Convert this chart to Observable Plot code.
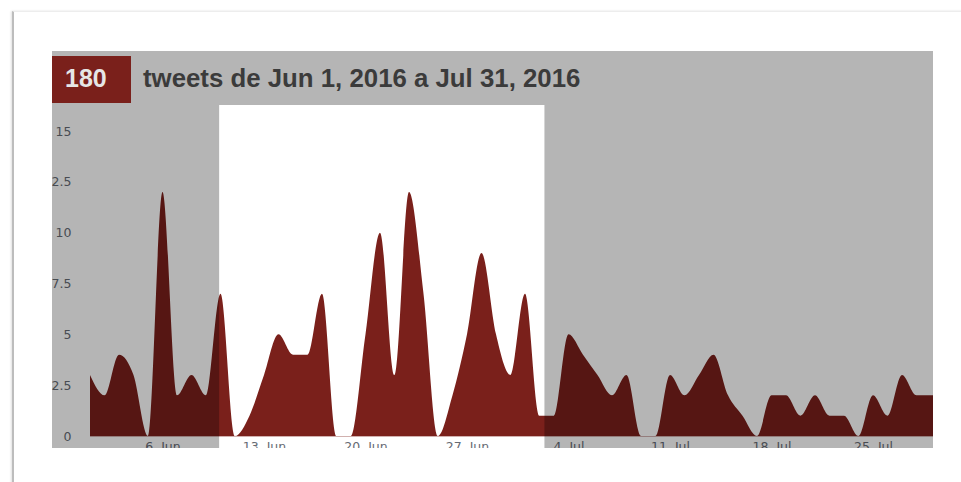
<!DOCTYPE html>
<html>
<head>
<meta charset="utf-8">
<script src="https://cdn.jsdelivr.net/npm/d3@7"></script>
<script src="https://cdn.jsdelivr.net/npm/@observablehq/plot@0.6"></script>
<style>
  html, body { margin: 0; padding: 0; background: #fff; width: 961px; height: 482px; overflow: hidden; }
  body { position: relative; }
  #card { position: absolute; left: 12px; top: 11px; width: 980px; height: 500px;
          border-left: 2px solid #bdbdbd; border-top: 1px solid #ededed;
          box-shadow: -1px 0 2px rgba(0,0,0,0.12); }
  #panel { position: absolute; left: 52px; top: 51px; width: 881px; height: 397px;
           overflow: hidden; background: #b5b5b5; }
  #countBox { position: absolute; left: 0; top: 5px; width: 79px; height: 47px; background: #7a201b; }
  #countText { position: absolute; left: 13px; top: 15px; font: bold 25px "Liberation Sans", Arial, sans-serif;
               line-height: 24px; color: #e6e6e6; white-space: nowrap; }
  #titleText { position: absolute; left: 91px; top: 15px; font: bold 25.8px "Liberation Sans", Arial, sans-serif;
               line-height: 24px; color: #3b3b3b; white-space: nowrap; }
  #chart { position: absolute; left: -30px; top: 54px; width: 948px; height: 360px; }
  #chart svg { overflow: hidden; max-width: none !important; }
</style>
</head>
<body>
<div id="card"></div>
<div id="panel">
  <div id="countBox"></div>
  <div id="countText"></div>
  <div id="titleText"></div>
  <div id="chart"></div>
</div>
<script>
// ---- data ----
const tweetTotal = "180";
const titleLabel = "tweets de Jun 1, 2016 a Jul 31, 2016";
const startDate = "2016-06-01";
const endDate = "2016-07-31";
// daily tweet counts from Jun 1 onward
const tweetCounts = [
  3, 2, 4, 3, 0, 12, 2, 3, 2, 7,
  0, 1, 3, 5, 4, 4, 7, 0, 0, 5,
  10, 3, 12, 7, 0, 2, 5, 9, 5, 3,
  7, 1, 1, 5, 4, 3, 2, 3, 0, 0,
  3, 2, 3, 4, 2, 1, 0, 2, 2, 1,
  2, 1, 1, 0, 2, 1, 3, 2, 2, 2
];
const bandStart = "2016-06-09T21:45Z";
const bandEnd = "2016-07-02T08:10Z";
const yTicks = [0, 2.5, 5, 7.5, 10, 12.5, 15];
const xTickDates = ["2016-06-06", "2016-06-13", "2016-06-20", "2016-06-27",
                    "2016-07-04", "2016-07-11", "2016-07-18", "2016-07-25"];

// ---- build ----
document.getElementById("countText").textContent = tweetTotal;
document.getElementById("titleText").textContent = titleLabel;

const t0 = new Date(startDate);
const series = tweetCounts.map((v, i) => ({date: d3.utcDay.offset(t0, i), count: v}));
const masks = [
  {start: new Date("2016-04-01"), end: new Date(bandStart), lo: -40, hi: 60},
  {start: new Date(bandEnd), end: new Date("2016-10-01"), lo: -40, hi: 60}
];

const chart = Plot.plot({
  width: 948,
  height: 360,
  marginLeft: 68,
  marginRight: 10,
  marginTop: 26,
  marginBottom: 29,
  style: {background: "#ffffff", fontFamily: "'DejaVu Sans', sans-serif", fontSize: "12.5px", maxWidth: "none"},
  x: {type: "utc", domain: [new Date(startDate), new Date(endDate)]},
  y: {domain: [0, 15]},
  marks: [
    Plot.areaY(series, {x: "date", y: "count", curve: "monotone-x", fill: "#7a201b"}),
    Plot.ruleY([0], {stroke: "#7a201b", strokeOpacity: 0.35}),
    Plot.axisY({ticks: yTicks, tickFormat: d => String(d), tickSize: 0, tickPadding: 19, color: "#666b74", label: null}),
    Plot.axisX({ticks: xTickDates.map(d => new Date(d)), tickFormat: d3.utcFormat("%-d. %b"),
                tickSize: 0, tickPadding: 6, color: "#666b74", label: null}),
    Plot.rect(masks, {x1: "start", x2: "end", y1: "lo", y2: "hi", fill: "#000", fillOpacity: 0.29, clip: false})
  ]
});
document.getElementById("chart").appendChild(chart);
</script>
</body>
</html>
